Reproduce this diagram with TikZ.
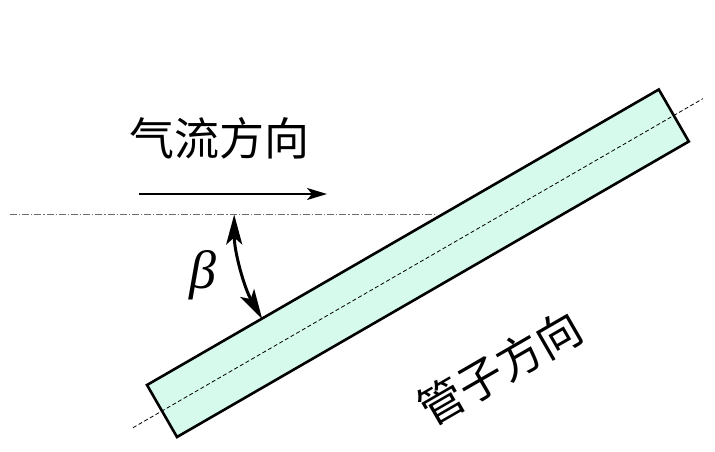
\documentclass[tikz,border=0pt]{standalone}
\usepackage{fontspec}
\newfontfamily\cjk{Noto Sans CJK SC}
\newfontfamily\grk{Liberation Serif}
\usetikzlibrary{arrows.meta}
\begin{document}
\begin{tikzpicture}[x=1pt,y=1pt,
  tube/.style={draw=black,line width=2.6pt,fill=tubefill,line join=miter},
  axisline/.style={draw=black,line width=0.8pt,dash pattern=on 4pt off 2.5pt},
  refline/.style={draw=gray!85!black,line width=1.1pt,dash pattern=on 7pt off 2pt on 1.2pt off 2pt},
  flowarrow/.style={draw=black,line width=1.8pt,-{Stealth[length=20pt,width=12pt,inset=5pt]}},
  anglearrow/.style={draw=black,line width=3pt,{Stealth[length=30pt,width=16pt,inset=7pt]}-{Stealth[length=30pt,width=16pt,inset=7pt]}},
  cjktext/.style={inner sep=0pt,font=\cjk\fontsize{45}{50}\selectfont}
]
\definecolor{tubefill}{RGB}{214,251,236}
\useasboundingbox (0,0) rectangle (715,-452);
% tube corners
\coordinate (A) at (147,-385);
\coordinate (B) at (658.8,-89.5);
\coordinate (C) at (688.8,-141.5);
\coordinate (D) at (177,-437);
\coordinate (AxS) at (133,-427.7);
\coordinate (AxE) at (703,-98.6);
\coordinate (RefS) at (10,-214.5);
\coordinate (RefE) at (437,-214.5);
\coordinate (FlowS) at (139,-194);
\coordinate (FlowE) at (327,-194);
\coordinate (O) at (443.2,-214.5);
\path[tube] (A) -- (B) -- (C) -- (D) -- cycle;
\draw[axisline] (AxS) -- (AxE);
\draw[refline] (RefS) -- (RefE);
\draw[flowarrow] (FlowS) -- (FlowE);
\draw[anglearrow] (O) ++(180:209) arc[start angle=180,end angle=210,radius=209];
\node[cjktext] (flow) at (219.5,-138.5) {气流方向};
\node[inner sep=0pt,font=\grk\itshape\fontsize{54}{58}\selectfont] (beta) at (203,-275) {β};
\node[cjktext,rotate=30] (pipe) at (500,-368) {管子方向};
\end{tikzpicture}
\end{document}
